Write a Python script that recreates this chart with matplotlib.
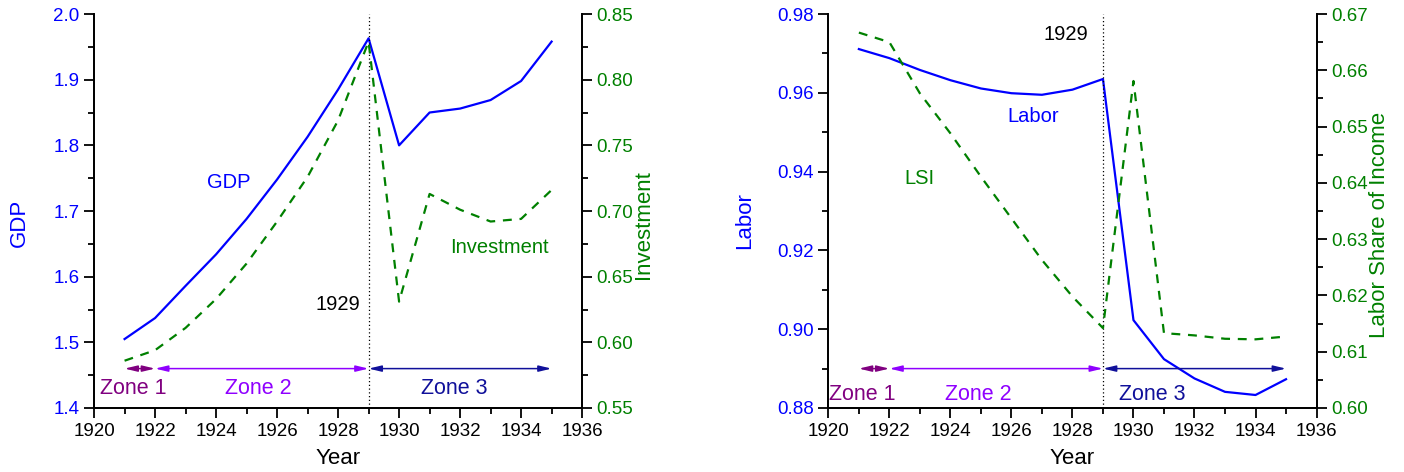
import matplotlib
matplotlib.use("Agg")
import matplotlib.pyplot as plt
from matplotlib.ticker import MultipleLocator

plt.rcParams.update({
    "font.family": ["Liberation Sans", "DejaVu Sans"],
    "axes.linewidth": 1.3,
})

years = [1921, 1922, 1923, 1924, 1925, 1926, 1927, 1928, 1929,
         1930, 1931, 1932, 1933, 1934, 1935]
gdp = [1.505, 1.537, 1.586, 1.634, 1.688, 1.748, 1.813, 1.885, 1.963,
       1.800, 1.850, 1.856, 1.869, 1.898, 1.958]
investment = [0.586, 0.594, 0.611, 0.633, 0.660, 0.692, 0.726, 0.769, 0.829,
              0.631, 0.713, 0.701, 0.692, 0.694, 0.716]
labor = [0.9711, 0.9688, 0.9658, 0.9632, 0.9611, 0.9599, 0.9595, 0.9608, 0.9635,
         0.9023, 0.8924, 0.8875, 0.8841, 0.8833, 0.8873]
lsi = [0.6667, 0.6650, 0.6559, 0.6488, 0.6411, 0.6337, 0.6263, 0.6198, 0.6142,
       0.6581, 0.6133, 0.6129, 0.6123, 0.6122, 0.6127]

zones = [("Zone 1", 1921, 1922, "#800080"),
         ("Zone 2", 1922, 1929, "#8f00ff"),
         ("Zone 3", 1929, 1935, "#10109a")]

BLUE = "#0000ff"
GREEN = "#008000"


def style_axes(ax, ax2, ylim, ymaj, ymin, y2lim, y2maj, y2min, fmt1, fmt2):
    ax.set_xlim(1920, 1936)
    ax.set_ylim(*ylim)
    ax2.set_ylim(*y2lim)
    ax.xaxis.set_major_locator(MultipleLocator(2))
    ax.xaxis.set_minor_locator(MultipleLocator(1))
    ax.yaxis.set_major_locator(MultipleLocator(ymaj))
    ax.yaxis.set_minor_locator(MultipleLocator(ymin))
    ax2.yaxis.set_major_locator(MultipleLocator(y2maj))
    ax2.yaxis.set_minor_locator(MultipleLocator(y2min))
    ax.yaxis.set_major_formatter(plt.FormatStrFormatter(fmt1))
    ax2.yaxis.set_major_formatter(plt.FormatStrFormatter(fmt2))
    for a in (ax, ax2):
        a.spines["top"].set_visible(False)
        a.tick_params(which="major", length=7, width=1.3, labelsize=13.5)
        a.tick_params(which="minor", length=4, width=1.3)
    ax.tick_params(axis="y", labelcolor=BLUE)
    ax2.tick_params(axis="y", labelcolor=GREEN)
    ax.set_xlabel("Year", fontsize=16, labelpad=6)


def draw_zones(ax, yarrow, ytext, xtexts):
    for (name, x0, x1, col), xt in zip(zones, xtexts):
        ax.annotate("", xy=(x1, yarrow), xytext=(x0, yarrow),
                    arrowprops=dict(arrowstyle="<|-|>,head_length=0.75,head_width=0.18",
                                    color=col, lw=1.1, shrinkA=0, shrinkB=0,
                                    mutation_scale=10))
        ax.text(xt, ytext, name, color=col, fontsize=15.5, ha="center", va="center")


fig = plt.figure(figsize=(14.04, 4.72), dpi=100)

# left panel
ax1 = fig.add_axes([0.067, 0.1356, 0.3476, 0.8347])
ax1b = ax1.twinx()
ax1.plot(years, gdp, color=BLUE, lw=1.6)
ax1b.plot(years, investment, color=GREEN, lw=1.6, dashes=(4, 3.5))
ax1.axvline(1929, color="black", lw=0.9, ls=(0, (1, 2)))
style_axes(ax1, ax1b, (1.4, 2.0), 0.1, 0.05, (0.55, 0.85), 0.05, 0.025, "%.1f", "%.2f")
ax1.set_ylabel("GDP", color=BLUE, fontsize=16, labelpad=17)
ax1b.set_ylabel("Investment", color=GREEN, fontsize=16, labelpad=0)
ax1.yaxis.label.set_y(0.47)
ax1b.yaxis.label.set_y(0.465)
draw_zones(ax1, 1.46, 1.429, [1921.3, 1925.4, 1931.8])
ax1.text(1924.4, 1.743, "GDP", color=BLUE, fontsize=14.5, ha="center", va="center")
ax1.text(1933.3, 1.644, "Investment", color=GREEN, fontsize=14.5, ha="center", va="center")
ax1.text(1928.0, 1.557, "1929", color="black", fontsize=14.5, ha="center", va="center")

# right panel
ax2 = fig.add_axes([0.590, 0.1356, 0.3477, 0.8347])
ax2b = ax2.twinx()
ax2.plot(years, labor, color=BLUE, lw=1.6)
ax2b.plot(years, lsi, color=GREEN, lw=1.6, dashes=(4, 3.5))
ax2.axvline(1929, color="black", lw=0.9, ls=(0, (1, 2)))
style_axes(ax2, ax2b, (0.88, 0.98), 0.02, 0.01, (0.60, 0.67), 0.01, 0.005, "%.2f", "%.2f")
ax2.set_ylabel("Labor", color=BLUE, fontsize=16, labelpad=16)
ax2b.set_ylabel("Labor Share of Income", color=GREEN, fontsize=16, labelpad=1)
ax2.yaxis.label.set_y(0.475)
ax2b.yaxis.label.set_y(0.465)
draw_zones(ax2, 0.89, 0.8835, [1921.1, 1924.9, 1930.6])
ax2.text(1926.7, 0.9539, "Labor", color=BLUE, fontsize=14.5, ha="center", va="center")
ax2.text(1923.0, 0.9383, "LSI", color=GREEN, fontsize=14.5, ha="center", va="center")
ax2.text(1927.8, 0.9748, "1929", color="black", fontsize=14.5, ha="center", va="center")

fig.savefig("out.png", dpi=100)
